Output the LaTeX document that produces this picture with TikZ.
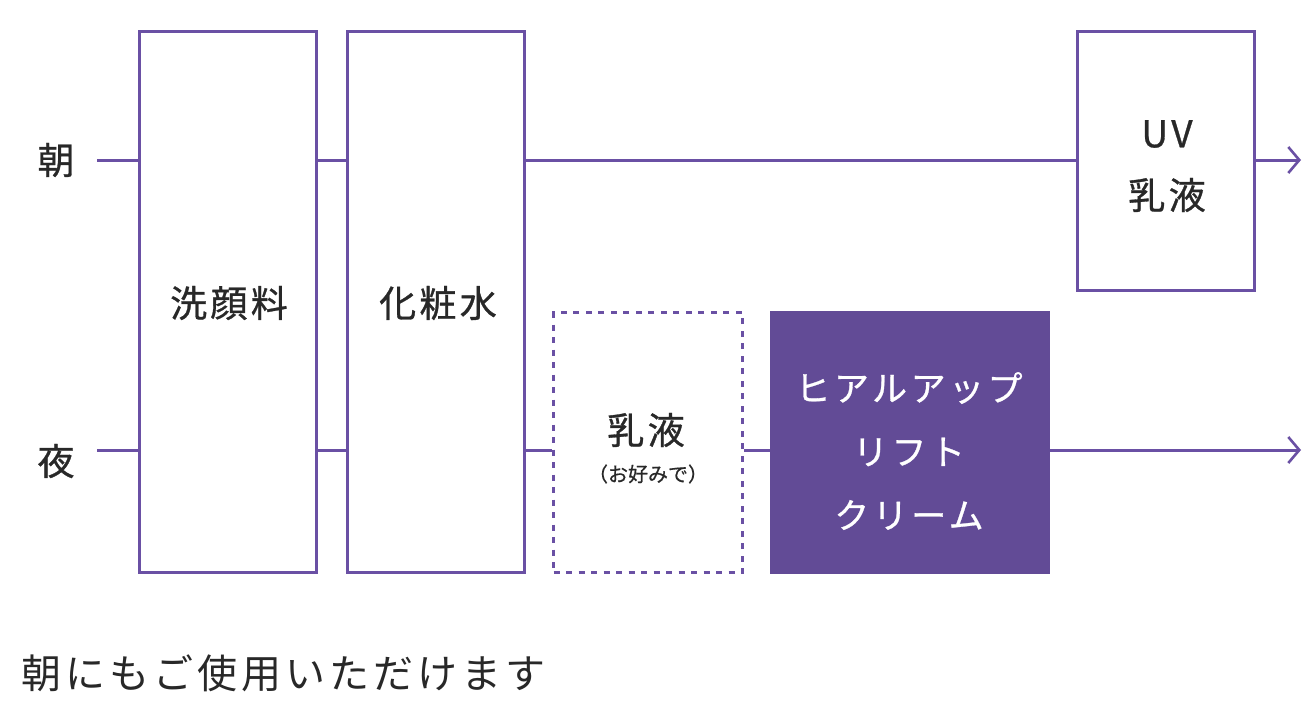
\documentclass[tikz,border=0pt]{standalone}
\usepackage{fontspec}
\setmainfont{Noto Sans CJK JP}
\newfontfamily\jpsp[LetterSpace=9,FakeBold=0.8]{Noto Sans CJK JP}
\newfontfamily\jpwh[LetterSpace=10,FakeBold=0.8]{Noto Sans CJK JP}
\newfontfamily\jpnote[LetterSpace=10]{Noto Sans CJK JP}
\newfontfamily\jpsmall[FakeBold=0.5]{Noto Sans CJK JP}
\usetikzlibrary{arrows.meta}
\definecolor{pline}{RGB}{106,80,164}
\definecolor{pfill}{RGB}{98,75,150}
\definecolor{ink}{RGB}{40,40,40}
\begin{document}
\begin{tikzpicture}[x=1pt,y=-1pt,
  stepbox/.style={draw=pline,line width=3pt,fill=white,inner sep=0pt,minimum width=177pt},
  dashbox/.style={draw=pline,line width=3pt,dash pattern=on 6pt off 6.5pt,inner sep=0pt},
  fillbox/.style={fill=pfill,draw=none,inner sep=0pt},
  conn/.style={draw=pline,line width=3pt},
  arr/.style={conn,-{Straight Barb[length=11pt,width=26pt,line width=2.6pt]}},
  lbl/.style={text=ink,font=\jpsp\fontsize{37}{42}\selectfont,inner sep=0pt},
  wlbl/.style={text=white,font=\jpwh\fontsize{35}{40}\selectfont,inner sep=0pt}
]
\useasboundingbox (0,0) rectangle (1308,720);
\fill[white] (0,0) rectangle (1308,720);

% boxes
\node[stepbox,minimum height=541pt] (sengan) at (228,302) {};
\node[stepbox,minimum height=541pt] (kesho) at (436,302) {};
\node[stepbox,minimum height=259pt] (uv) at (1166,161) {};
\node[dashbox,minimum width=189pt,minimum height=260pt] (nyueki) at (648,442.5) {};
\node[fillbox,minimum width=280pt,minimum height=263pt] (cream) at (910,442.5) {};

% texts in boxes
\node[lbl] (tsengan) at (229,303) {洗顔料};
\node[lbl] (tkesho) at (438,303) {化粧水};
\node[lbl] (tuv1) at (1167,134) {UV};
\node[lbl] (tuv2) at (1167,195) {乳液};
\node[lbl] (tny1) at (646,430) {乳液};
\node[text=ink,font=\jpsmall\fontsize{20}{24}\selectfont,inner sep=0pt] (tny2) at (648,474) {（お好みで）};
\node[wlbl] (tc1) at (909,388) {ヒアルアップ};
\node[wlbl] (tc2) at (909,452) {リフト};
\node[wlbl] (tc3) at (909,515) {クリーム};

% row labels
\node[lbl] (asa) at (56,160) {朝};
\node[lbl] (yoru) at (56,461) {夜};
\coordinate (asaS) at (97,160);
\coordinate (yoruS) at (97,450);
\coordinate (asaE) at (1301,160);
\coordinate (yoruE) at (1301,450);

% morning line
\draw[conn] (asaS) -- (sengan.west |- asaS);
\draw[conn] (sengan.east |- asaS) -- (kesho.west |- asaS);
\draw[conn] (kesho.east |- asaS) -- (uv.west |- asaS);
\draw[arr] (uv.east |- asaS) -- (asaE);

% night line
\draw[conn] (yoruS) -- (sengan.west |- yoruS);
\draw[conn] (sengan.east |- yoruS) -- (kesho.west |- yoruS);
\draw[conn] (kesho.east |- yoruS) -- (nyueki.west |- yoruS);
\draw[conn] (nyueki.east |- yoruS) -- (cream.west |- yoruS);
\draw[arr] (cream.east |- yoruS) -- (yoruE);

% note
\node[anchor=west,text=ink,font=\jpnote\fontsize{40}{45}\selectfont,inner sep=0pt] (note) at (21,673) {朝にもご使用いただけます};
\end{tikzpicture}
\end{document}
